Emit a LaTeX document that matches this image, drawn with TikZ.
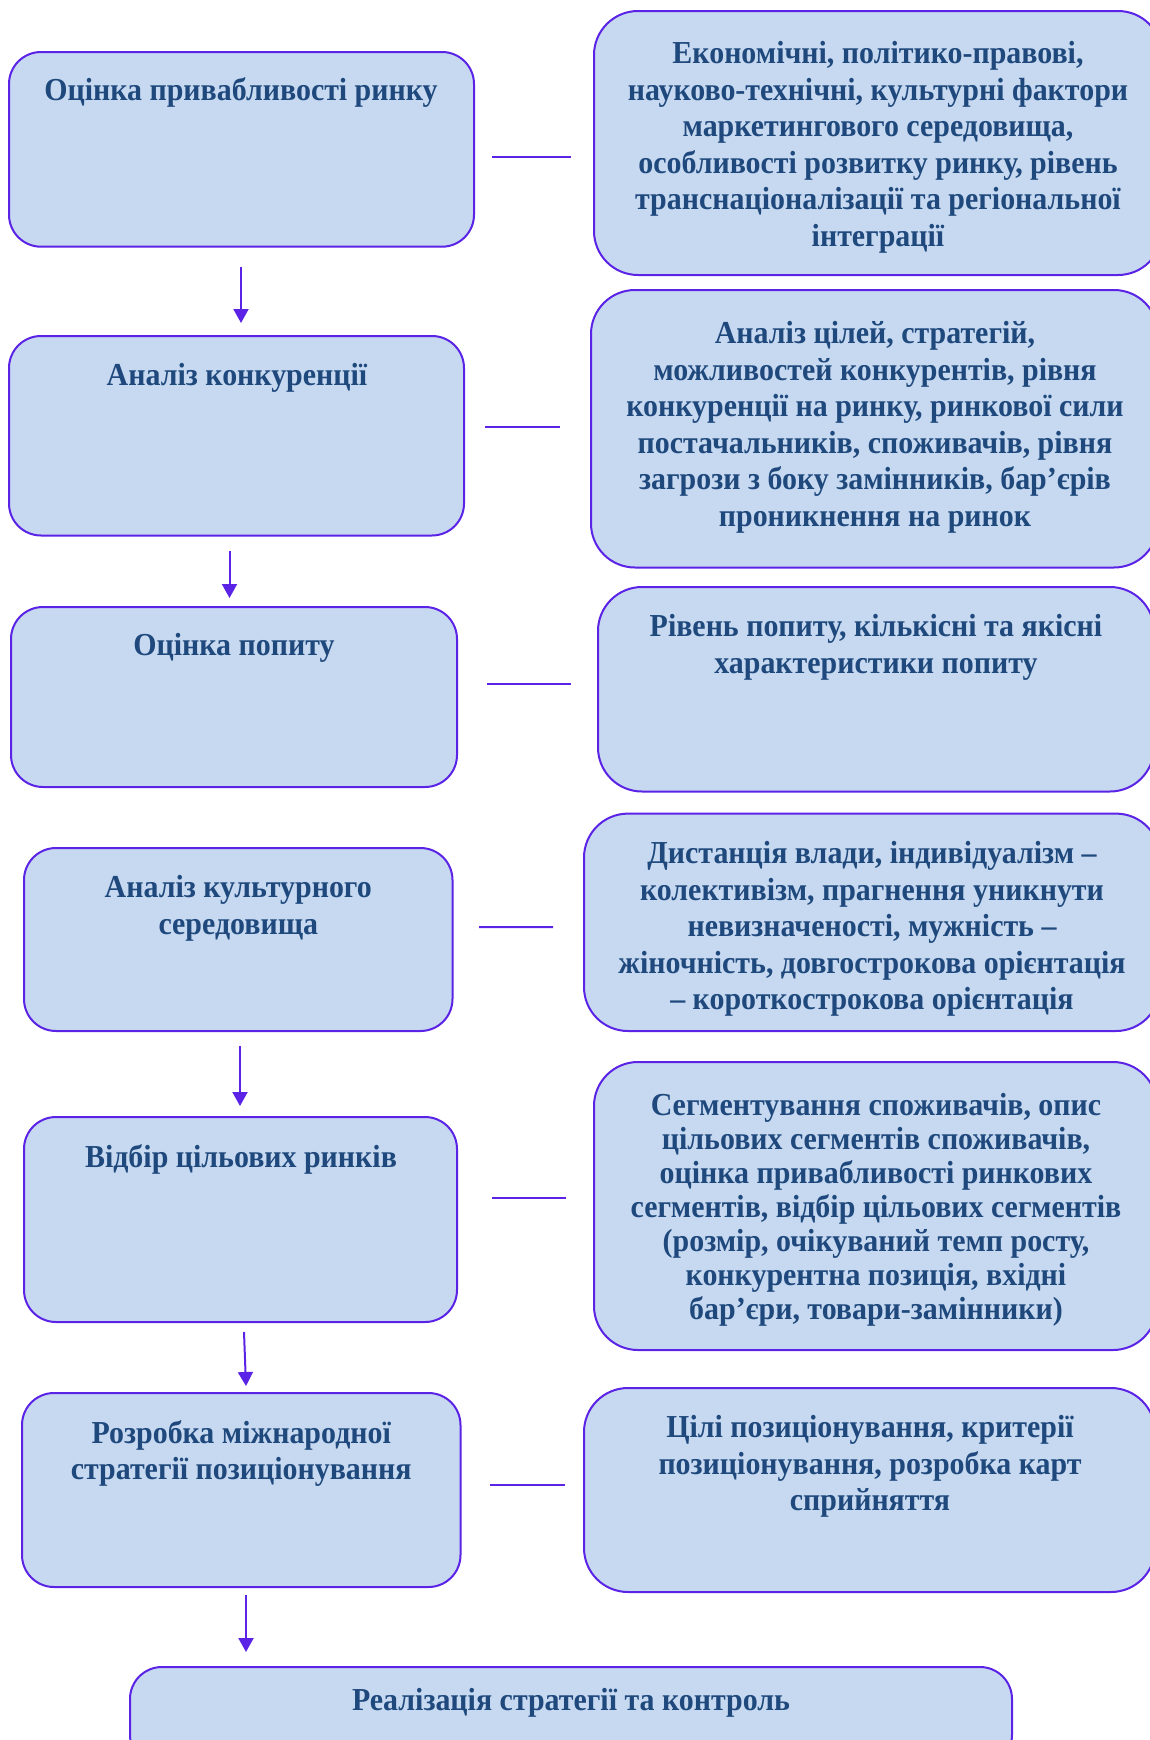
\documentclass[tikz,border=0pt]{standalone}
\usepackage{fontspec}
\setmainfont{Liberation Serif}[FakeStretch=0.935]
\usetikzlibrary{arrows.meta}
\definecolor{boxfill}{HTML}{C6D9F1}
\definecolor{edge}{RGB}{90,35,230}
\definecolor{ink}{HTML}{1F497D}

\begin{document}
\begin{tikzpicture}[x=0.5pt,y=-0.5pt,
  lbox/.style={draw=edge,fill=boxfill,line width=1pt,rounded corners=16pt,inner sep=0pt},
  rbox/.style={lbox,rounded corners=22pt},
  txt/.style={anchor=north,inner sep=0pt,align=center,text=ink,font=\fontsize{16}{18.25}\selectfont\bfseries},
  link/.style={draw=edge,line width=1pt},
  flow/.style={link,-{Triangle[length=7pt,width=7.5pt]}}]
\useasboundingbox (0,0) rectangle (1150,1740);
\fill[white] (0,0) rectangle (1150,1740);
\clip (0,0) rectangle (1150,1740);

% left column
\node[lbox,minimum width=232.5pt,minimum height=97.35pt] (b1) at (241.5,149.35) {};
\node[lbox,minimum width=227.5pt,minimum height=99.75pt] (b2) at (236.5,435.75) {};
\node[lbox,minimum width=223pt,minimum height=90pt] (b3) at (234,697) {};
\node[lbox,minimum width=214.25pt,minimum height=91.5pt] (b4) at (238.25,939.5) {};
\node[lbox,minimum width=216.5pt,minimum height=102.5pt] (b5) at (240.5,1219.5) {};
\node[lbox,minimum width=219.25pt,minimum height=97pt] (b6) at (241.25,1490) {};
\node[lbox,minimum width=441pt,minimum height=50pt] (b7) at (571,1717) {};

\node[txt] (t1) at ([shift={(-0.5,26)}]b1.north) {Оцінка привабливості ринку};
\node[txt] (t2) at ([shift={(0.5,28)}]b2.north) {Аналіз конкуренції};
\node[txt] (t3) at ([shift={(0,27)}]b3.north) {Оцінка попиту};
\node[txt] (t4) at ([shift={(0,28)}]b4.north) {Аналіз культурного\\середовища};
\node[txt] (t5) at ([shift={(0.5,28)}]b5.north) {Відбір цільових ринків};
\node[txt] (t6) at ([shift={(0,28)}]b6.north) {Розробка міжнародної\\стратегії позиціонування};
\node[txt] (t7) at ([shift={(0,22)}]b7.north) {Реалізація стратегії та контроль};

% right column
\node[rbox,minimum width=284pt,minimum height=132pt] (r1) at (878,143) {};
\node[rbox,minimum width=283.5pt,minimum height=138.75pt] (r2) at (874.5,428.75) {};
\node[rbox,minimum width=278pt,minimum height=102.25pt] (r3) at (876,689.25) {};
\node[rbox,minimum width=288pt,minimum height=108.7pt] (r4) at (872,922.3) {};
\node[rbox,minimum width=281.5pt,minimum height=144pt] (r5) at (875.5,1206) {};
\node[rbox,minimum width=285.5pt,minimum height=102pt] (r6) at (869.5,1490) {};

\node[txt] (s1) at ([shift={(0,31)}]r1.north) {Економічні, політико-правові,\\науково-технічні, культурні фактори\\маркетингового середовища,\\особливості розвитку ринку, рівень\\транснаціоналізації та регіональної\\інтеграції};
\node[txt] (s2) at ([shift={(0.5,32)}]r2.north) {Аналіз цілей, стратегій,\\можливостей конкурентів, рівня\\конкуренції на ринку, ринкової сили\\постачальників, споживачів, рівня\\загрози з боку замінників, бар’єрів\\проникнення на ринок};
\node[txt] (s3) at ([shift={(0,28)}]r3.north) {Рівень попиту, кількісні та якісні\\характеристики попиту};
\node[txt] (s4) at ([shift={(0,28.5)}]r4.north) {Дистанція влади, індивідуалізм –\\колективізм, прагнення уникнути\\невизначеності, мужність –\\жіночність, довгострокова орієнтація\\– короткострокова орієнтація};
\node[txt,font=\fontsize{16}{17}\selectfont\bfseries] (s5) at ([shift={(0.5,32)}]r5.north) {Сегментування споживачів, опис\\цільових сегментів споживачів,\\оцінка привабливості ринкових\\сегментів, відбір цільових сегментів\\(розмір, очікуваний темп росту,\\конкурентна позиція, вхідні\\бар’єри, товари-замінники)};
\node[txt] (s6) at ([shift={(0.5,28)}]r6.north) {Цілі позиціонування, критерії\\позиціонування, розробка карт\\сприйняття};

% lines between the columns
\draw[link] ([shift={(17,7.65)}]b1.east) -- ([shift={(-22,14)}]r1.west);
\draw[link] ([shift={(20,-8.75)}]b2.east) -- ([shift={(-30,-1.75)}]r2.west);
\draw[link] ([shift={(29,-13)}]b3.east) -- ([shift={(-26,-5.25)}]r3.west);
\draw[link] ([shift={(25.5,-12.5)}]b4.east) -- ([shift={(-30,4.7)}]r4.west);
\draw[link] ([shift={(34,-22)}]b5.east) -- ([shift={(-27,-8.5)}]r5.west);
\draw[link] ([shift={(28.5,-5)}]b6.east) -- ([shift={(-18,-5)}]r6.west);

% arrows down the left column
\draw[flow] ([shift={(-0.5,19.3)}]b1.south) -- ([shift={(4.5,-12)}]b2.north);
\draw[flow] ([shift={(-7,14.5)}]b2.south) -- ([shift={(-4.5,-8)}]b3.north);
\draw[flow] ([shift={(1.75,14)}]b4.south) -- ([shift={(-0.5,-10)}]b5.north);
\draw[flow] ([shift={(3.5,9)}]b5.south) -- ([shift={(4.75,-6)}]b6.north);
\draw[flow] ([shift={(4.75,7)}]b6.south) -- ([shift={(-325,-14)}]b7.north);
\end{tikzpicture}
\end{document}
